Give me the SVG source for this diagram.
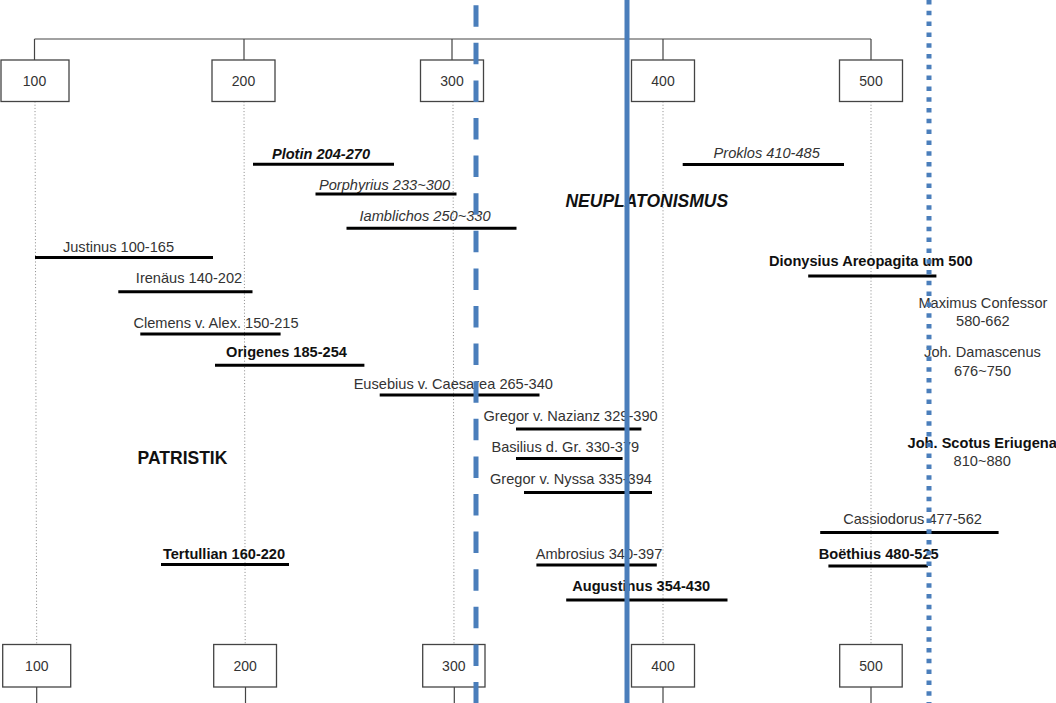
<svg xmlns="http://www.w3.org/2000/svg" width="1056" height="703" viewBox="0 0 1056 703">
<style>
text{font-family:"Liberation Sans",Arial,sans-serif;font-size:14.6px;fill:#333;text-anchor:middle}
.b{font-weight:bold;fill:#111}
.i{font-style:italic}
.box{fill:#fff;stroke:#444;stroke-width:1.3}
.lbl{font-size:14px}
.conn{stroke:#444;stroke-width:1.2;fill:none}
.dot{stroke:#888;stroke-width:1;stroke-dasharray:1 2.2;fill:none}
.bar{stroke:#000;stroke-width:3;fill:none}
.era{font-size:17.5px;font-weight:bold;fill:#111}
.blue{stroke:#4a7ebb;stroke-width:5;fill:none}
</style>
<rect width="1056" height="703" fill="#fff"/>
<g id="connectors">
<path class="conn" d="M34.5 39H871M34.5 39V60M244 39V60M452 39V60M663 39V60M871 39V60"/>
<path class="conn" d="M36.7 687V703M245.5 687V703M454.3 687V703M663 687V703M871 687V703"/>
<path class="dot" d="M35 101.5L36.7 644.5M244 101.5L245.2 644.5M453 101.5L454 644.5M663 101.5V644.5M871 101.5V644.5"/>
</g>
<g id="axis-top-100"><rect class="box" x="1" y="60" width="68" height="41.5"/><text class="lbl" x="34.5" y="86">100</text></g>
<g id="axis-top-200"><rect class="box" x="212" y="60" width="63" height="41.5"/><text class="lbl" x="243.5" y="86">200</text></g>
<g id="axis-top-300"><rect class="box" x="420.5" y="60" width="63" height="41.5"/><text class="lbl" x="452" y="86">300</text></g>
<g id="axis-top-400"><rect class="box" x="631.5" y="60" width="63" height="41.5"/><text class="lbl" x="663" y="86">400</text></g>
<g id="axis-top-500"><rect class="box" x="839.5" y="60" width="63" height="41.5"/><text class="lbl" x="871" y="86">500</text></g>
<g id="axis-bottom-100"><rect class="box" x="2.7" y="644.5" width="68" height="42.5"/><text class="lbl" x="36.8" y="670.5">100</text></g>
<g id="axis-bottom-200"><rect class="box" x="213.7" y="644.5" width="62.8" height="42.5"/><text class="lbl" x="245.1" y="670.5">200</text></g>
<g id="axis-bottom-300"><rect class="box" x="422.7" y="644.5" width="62.3" height="42.5"/><text class="lbl" x="453.8" y="670.5">300</text></g>
<g id="axis-bottom-400"><rect class="box" x="631.5" y="644.5" width="63" height="42.5"/><text class="lbl" x="663" y="670.5">400</text></g>
<g id="axis-bottom-500"><rect class="box" x="839.7" y="644.5" width="62.5" height="42.5"/><text class="lbl" x="871" y="670.5">500</text></g>
<g id="era-neuplatonismus"><text class="era i" x="646.8" y="206.7">NEUPLATONISMUS</text></g>
<g id="era-patristik"><text class="era" x="182.5" y="463.5">PATRISTIK</text></g>
<g id="plotin"><text class="b i" x="321" y="159">Plotin 204-270</text><path class="bar" d="M253 164.3H394"/></g>
<g id="porphyrius"><text class="i" x="384.5" y="190">Porphyrius 233~300</text><path class="bar" d="M315.5 194H456.5"/></g>
<g id="iamblichos"><text class="i" x="425" y="221">Iamblichos 250~330</text><path class="bar" d="M346.5 228.2H516.5"/></g>
<g id="proklos"><text class="i" x="766.7" y="158">Proklos 410-485</text><path class="bar" d="M682.7 164.6H844"/></g>
<g id="justinus"><text x="118.5" y="251.5">Justinus 100-165</text><path class="bar" d="M35 257.6H213"/></g>
<g id="irenaeus"><text x="189" y="283.3">Irenäus 140-202</text><path class="bar" d="M118.3 291.8H252.5"/></g>
<g id="clemens"><text x="216" y="327.6">Clemens v. Alex. 150-215</text><path class="bar" d="M140.3 334H280.6"/></g>
<g id="origenes"><text class="b" x="286.5" y="357">Origenes 185-254</text><path class="bar" d="M215 365.2H364.4"/></g>
<g id="eusebius"><text x="453.3" y="388.5">Eusebius v. Caesarea 265-340</text><path class="bar" d="M379.7 395H539.5"/></g>
<g id="gregor-nazianz"><text x="570.6" y="420.6">Gregor v. Nazianz 329-390</text><path class="bar" d="M516 429H641.4"/></g>
<g id="basilius"><text x="565.3" y="452.4">Basilius d. Gr. 330-379</text><path class="bar" d="M516 458.5H622.6"/></g>
<g id="gregor-nyssa"><text x="571" y="483.8">Gregor v. Nyssa 335-394</text><path class="bar" d="M524 492.6H652"/></g>
<g id="tertullian"><text class="b" x="224" y="558.5">Tertullian 160-220</text><path class="bar" d="M161 564.6H289"/></g>
<g id="ambrosius"><text x="599" y="559">Ambrosius 340-397</text><path class="bar" d="M536.4 565H656.8"/></g>
<g id="augustinus"><text class="b" x="641.2" y="591">Augustinus 354-430</text><path class="bar" d="M566.2 600H727.5"/></g>
<g id="dionysius"><text class="b" x="870.8" y="266">Dionysius Areopagita um 500</text><path class="bar" d="M808.2 276H936.4"/></g>
<g id="maximus"><text x="982.9" y="307.5">Maximus Confessor</text><text x="982.9" y="325.5">580-662</text></g>
<g id="damascenus"><text x="982.5" y="357.4">Joh. Damascenus</text><text x="982.5" y="375.5">676~750</text></g>
<g id="eriugena"><text class="b" x="982.2" y="448">Joh. Scotus Eriugena</text><text x="982.2" y="466">810~880</text></g>
<g id="cassiodorus"><text x="912.6" y="524">Cassiodorus 477-562</text><path class="bar" d="M820.2 532.5H998.6"/></g>
<g id="boethius"><text class="b" x="878.7" y="559">Boëthius 480-525</text><path class="bar" d="M828.4 566H927.9"/></g>
<g id="markers">
<path class="blue" d="M476 5.2V703" stroke-dasharray="21.5 16.1"/>
<path class="blue" d="M627 0V703" stroke-width="5.4"/>
<path class="blue" d="M929 0V703" stroke-width="4.5" stroke-dasharray="4.5 6.3"/>
</g>
</svg>
